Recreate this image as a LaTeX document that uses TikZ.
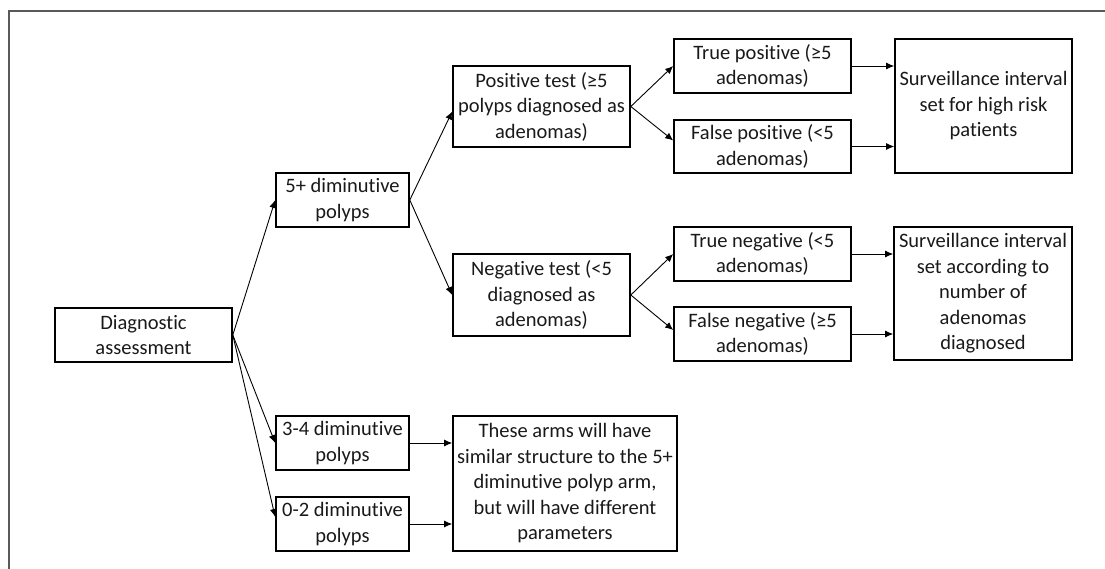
\documentclass[tikz,border=0pt]{standalone}
\usepackage{fontspec}
\setmainfont{Carlito}[Ligatures={NoCommon}]
\usetikzlibrary{arrows.meta}
\begin{document}
\begin{tikzpicture}[x=1pt,y=-1pt,
  box/.style={draw=black, line width=1.6pt, inner sep=0pt, align=center,
    font=\fontsize{20.5}{25.5}\selectfont, text=black!90},
  conn/.style={line width=0.9pt, -{Latex[length=8pt,width=7pt]}}]
\useasboundingbox (0,0) rectangle (1105,569);
\draw[line width=1.4pt, black!65] (9,569) -- (9,11) -- (1105,11);

\node[box, minimum width=177pt, minimum height=54pt] (diag) at (143.5,335) {Diagnostic\\assessment};
\node[box, minimum width=133pt, minimum height=54pt] (five) at (342.5,200) {5+ diminutive\\polyps};
\node[box, minimum width=133pt, minimum height=54pt] (three) at (342.5,443) {3-4 diminutive\\polyps};
\node[box, minimum width=133pt, minimum height=54pt] (zero) at (342.5,524) {0-2 diminutive\\polyps};
\node[box, minimum width=177pt, minimum height=81pt] (pos) at (541.5,106.5) {Positive test (≥5\\polyps diagnosed as\\adenomas)};
\node[box, minimum width=177pt, minimum height=82pt] (neg) at (541.5,295) {Negative test (<5\\diagnosed as\\adenomas)};
\node[box, minimum width=177pt, minimum height=54pt] (tp) at (762.5,66) {True positive (≥5\\adenomas)};
\node[box, minimum width=177pt, minimum height=53pt] (fp) at (762.5,146.5) {False positive (<5\\adenomas)};
\node[box, minimum width=177pt, minimum height=54pt] (tn) at (762.5,254) {True negative (<5\\adenomas)};
\node[box, minimum width=177pt, minimum height=54pt] (fn) at (762.5,334) {False negative (≥5\\adenomas)};
\node[box, minimum width=177pt, minimum height=134pt] (shr) at (983.5,106) {Surveillance interval\\set for high risk\\patients};
\node[box, minimum width=178pt, minimum height=133pt] (sac) at (983,293.5) {Surveillance interval\\set according to\\number of\\adenomas\\diagnosed};
\node[box, minimum width=224pt, minimum height=135pt] (arms) at (565,483.5) {These arms will have\\similar structure to the 5+\\diminutive polyp arm,\\but will have different\\parameters};

\draw[conn] (diag.east) -- (five.west);
\draw[conn] (diag.east) -- (three.west);
\draw[conn] (diag.east) -- ([yshift=7pt]zero.west);
\draw[conn] (five.east) -- ([yshift=-5pt]pos.west);
\draw[conn] (five.east) -- (neg.west);
\draw[conn] (pos.east) -- (tp.west);
\draw[conn] (pos.east) -- ([yshift=6pt]fp.west);
\draw[conn] (neg.east) -- (tn.west);
\draw[conn] (neg.east) -- ([yshift=4pt]fn.west);
\draw[conn] (tp.east) -- (tp.east -| shr.west);
\draw[conn] (fp.east) -- (fp.east -| shr.west);
\draw[conn] (tn.east) -- (tn.east -| sac.west);
\draw[conn] (fn.east) -- (fn.east -| sac.west);
\draw[conn] (three.east) -- (three.east -| arms.west);
\draw[conn] (zero.east) -- (zero.east -| arms.west);
\end{tikzpicture}
\end{document}
